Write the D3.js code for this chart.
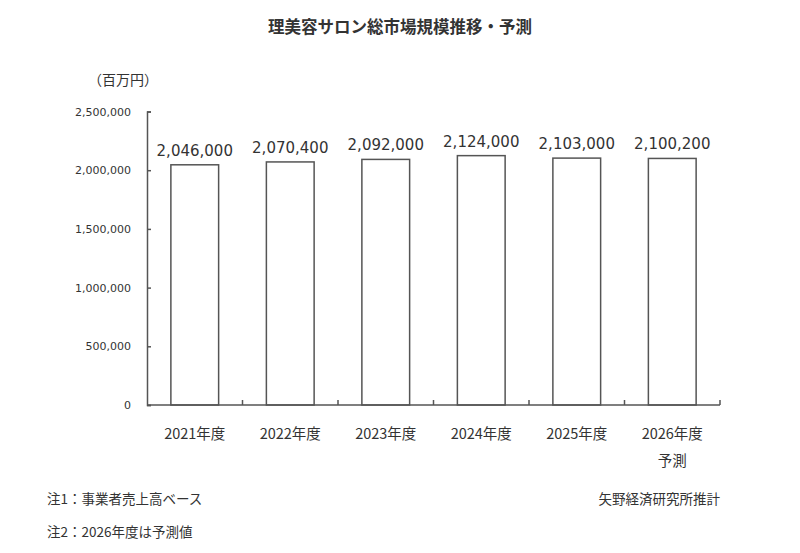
<!DOCTYPE html>
<html>
<head>
<meta charset="utf-8">
<script src="https://cdn.jsdelivr.net/npm/d3@7"></script>
<style>
  body { margin: 0; background: #fff; }
  text { fill: #333; }
</style>
</head>
<body>
<div id="chart"></div>
<script>
// chart data
var years = ["2021年度", "2022年度", "2023年度", "2024年度", "2025年度", "2026年度"];
var values = [2046000, 2070400, 2092000, 2124000, 2103000, 2100200];
var yTicks = [0, 500000, 1000000, 1500000, 2000000, 2500000];

var width = 800, height = 553;
var plotLeft = 147, plotRight = 720, plotTop = 111.5, plotBottom = 405;

var svg = d3.select("#chart").append("svg")
  .attr("width", width)
  .attr("height", height);

var x = d3.scaleBand()
  .domain(years)
  .range([plotLeft, plotRight])
  .paddingInner(0.5)
  .paddingOuter(0.25);

var y = d3.scaleLinear()
  .domain([0, 2500000])
  .range([plotBottom, plotTop]);

var fmt = d3.format(",");
var jp = "'Noto Sans CJK JP', 'Noto Sans', sans-serif";

// title
svg.append("text")
  .attr("x", 400)
  .attr("y", 33)
  .attr("text-anchor", "middle")
  .style("font-family", jp)
  .style("font-size", "16.5px")
  .style("font-weight", "bold")
  .text("理美容サロン総市場規模推移・予測");

// unit
svg.append("text")
  .attr("x", 88)
  .attr("y", 85)
  .style("font-family", jp)
  .style("font-size", "14px")
  .text("（百万円）");

// bars
svg.selectAll("rect.bar")
  .data(values)
  .enter()
  .append("rect")
  .attr("class", "bar")
  .attr("x", function(d, i) { return x(years[i]); })
  .attr("y", function(d) { return y(d); })
  .attr("width", x.bandwidth())
  .attr("height", function(d) { return y(0) - y(d); })
  .attr("fill", "#fff")
  .attr("stroke", "#555")
  .attr("stroke-width", 1.5);

// value labels
svg.selectAll("text.val")
  .data(values)
  .enter()
  .append("text")
  .attr("class", "val")
  .attr("x", function(d, i) { return x(years[i]) + x.bandwidth() / 2; })
  .attr("y", function(d) { return y(d) - 9; })
  .attr("text-anchor", "middle")
  .style("font-family", "'DejaVu Sans', sans-serif")
  .style("font-size", "15px")
  .text(function(d) { return fmt(d); });

// y axis
var yAxis = svg.append("g")
  .attr("transform", "translate(" + plotLeft + ",0)")
  .call(d3.axisLeft(y).tickValues(yTicks).tickSize(-4).tickPadding(16).tickFormat(fmt));
yAxis.select(".domain").attr("stroke", "#555").attr("stroke-width", 1.5);
yAxis.selectAll(".tick line").attr("stroke", "#555").attr("stroke-width", 1.5);
yAxis.selectAll(".tick text")
  .style("font-family", "'DejaVu Sans', sans-serif")
  .style("font-size", "11px")
  .attr("fill", "#333");

// x axis line with ticks between categories
var xAxis = svg.append("g").attr("transform", "translate(0," + plotBottom + ")");
xAxis.append("line")
  .attr("x1", plotLeft).attr("x2", plotRight)
  .attr("stroke", "#555").attr("stroke-width", 1.5);
var bounds = d3.range(years.length + 1).map(function(i) {
  return plotLeft + i * (plotRight - plotLeft) / years.length;
});
xAxis.selectAll("line.tk")
  .data(bounds.slice(1))
  .enter()
  .append("line")
  .attr("class", "tk")
  .attr("x1", function(d) { return d; })
  .attr("x2", function(d) { return d; })
  .attr("y1", 0).attr("y2", -5)
  .attr("stroke", "#555").attr("stroke-width", 1.5);

xAxis.selectAll("text.cat")
  .data(years)
  .enter()
  .append("text")
  .attr("class", "cat")
  .attr("x", function(d) { return x(d) + x.bandwidth() / 2; })
  .attr("y", 34)
  .attr("text-anchor", "middle")
  .style("font-family", jp)
  .style("font-size", "14.5px")
  .text(function(d) { return d; });

xAxis.append("text")
  .attr("x", x(years[5]) + x.bandwidth() / 2)
  .attr("y", 61)
  .attr("text-anchor", "middle")
  .style("font-family", jp)
  .style("font-size", "14.5px")
  .text("予測");

// notes
var notes = ["注1：事業者売上高ベース", "注2：2026年度は予測値"];
svg.selectAll("text.note")
  .data(notes)
  .enter()
  .append("text")
  .attr("class", "note")
  .attr("x", 47)
  .attr("y", function(d, i) { return 504 + i * 33; })
  .style("font-family", jp)
  .style("font-size", "13.5px")
  .text(function(d) { return d; });

svg.append("text")
  .attr("x", 720)
  .attr("y", 504)
  .attr("text-anchor", "end")
  .style("font-family", jp)
  .style("font-size", "13.5px")
  .text("矢野経済研究所推計");
</script>
</body>
</html>
